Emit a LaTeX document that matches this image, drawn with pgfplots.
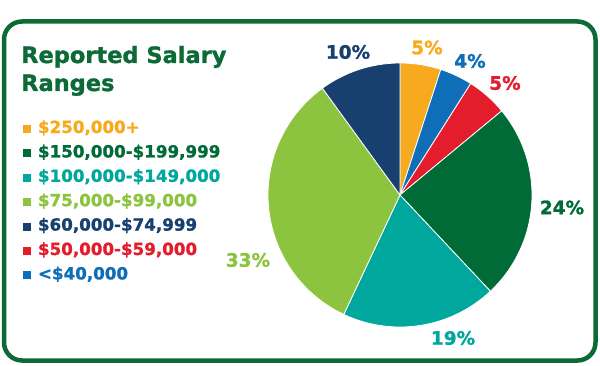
\documentclass[border=0pt]{standalone}
\usepackage{pgfplots}
\pgfplotsset{compat=1.18}
\usepackage{pgfplotstable}
\usepackage{fontspec}
\setmainfont{DejaVu Sans}[BoldFont=DejaVu Sans Bold, BoldFeatures={FakeBold=1.3}]
\definecolor{cOrange}{HTML}{F8AA1F}
\definecolor{cBlue}{HTML}{0E6EB8}
\definecolor{cRed}{HTML}{E31D2B}
\definecolor{cDGreen}{HTML}{006B37}
\definecolor{cTeal}{HTML}{00A79D}
\definecolor{cLGreen}{HTML}{8CC43F}
\definecolor{cNavy}{HTML}{17406F}
\definecolor{cFrame}{HTML}{0B6A36}
% pie slices, clockwise from 12 o'clock
\pgfplotstableread{
value color
5 cOrange
4 cBlue
5 cRed
24 cDGreen
19 cTeal
33 cLGreen
10 cNavy
}\piedata
\begin{document}
\begin{tikzpicture}
\begin{axis}[
  scale only axis, width=600pt, height=365pt,
  xmin=0, xmax=600, ymin=0, ymax=365,
  axis lines=none, clip=false,
  legend style={at={(axis cs:23,244.2)}, anchor=north west, draw=none, fill=none,
    font=\bfseries\fontsize{16.7}{20}\selectfont,
    row sep=12.2pt, column sep=7pt, inner sep=0pt, outer sep=0pt,
    nodes={inner sep=0pt, text height=12.2pt, text depth=0pt}},
  legend cell align=left,
  legend image code/.code={\fill[#1] (0pt,-6.1pt) rectangle (8pt,1.9pt);},
]
\path (axis cs:0,0) rectangle (axis cs:600,365);
\draw[cFrame, line width=4.5pt, rounded corners=18pt] (axis cs:4,4.5) rectangle (axis cs:595.5,343.5);

\xdef\startang{90}
\pgfplotsinvokeforeach{0,...,6}{
  \pgfplotstablegetelem{#1}{value}\of\piedata \let\slv\pgfplotsretval
  \pgfplotstablegetelem{#1}{color}\of\piedata \let\slc\pgfplotsretval
  \pgfmathsetmacro\endang{\startang-3.6*\slv}
  \edef\temp{\noexpand\addplot[forget plot, fill=\slc, draw=white, line width=0.8pt, line join=round,
     domain=\endang:\startang, samples=60, variable=\noexpand\t]
     ({400+132*cos(\noexpand\t)},{170+132*sin(\noexpand\t)}) -- (axis cs:400,170) -- cycle;}
  \temp
  \xdef\startang{\endang}
}

\addlegendimage{fill=cOrange, draw=none}
\addlegendentry[text=cOrange]{\$250,000+}
\addlegendimage{fill=cDGreen, draw=none}
\addlegendentry[text=cDGreen]{\$150,000-\$199,999}
\addlegendimage{fill=cTeal, draw=none}
\addlegendentry[text=cTeal]{\$100,000-\$149,000}
\addlegendimage{fill=cLGreen, draw=none}
\addlegendentry[text=cLGreen]{\$75,000-\$99,000}
\addlegendimage{fill=cNavy, draw=none}
\addlegendentry[text=cNavy]{\$60,000-\$74,999}
\addlegendimage{fill=cRed, draw=none}
\addlegendentry[text=cRed]{\$50,000-\$59,000}
\addlegendimage{fill=cBlue, draw=none}
\addlegendentry[text=cBlue]{<\$40,000}

\node[anchor=base west, inner sep=0pt, text=cFrame, font=\bfseries\fontsize{22.5}{27}\selectfont] at (axis cs:21,302) {Reported Salary};
\node[anchor=base west, inner sep=0pt, text=cFrame, font=\bfseries\fontsize{22.5}{27}\selectfont] at (axis cs:21,274) {Ranges};

\tikzset{pl/.style={inner sep=0pt, font=\bfseries\fontsize{18.5}{22}\selectfont}}
\node[pl, text=cNavy] at (axis cs:348,313) {10\%};
\node[pl, text=cOrange] at (axis cs:427,317.5) {5\%};
\node[pl, text=cBlue] at (axis cs:470,304) {4\%};
\node[pl, text=cRed] at (axis cs:505,282) {5\%};
\node[pl, text=cDGreen] at (axis cs:562,157.5) {24\%};
\node[pl, text=cTeal] at (axis cs:453,27) {19\%};
\node[pl, text=cLGreen] at (axis cs:248,105) {33\%};
\end{axis}
\end{tikzpicture}
\end{document}
